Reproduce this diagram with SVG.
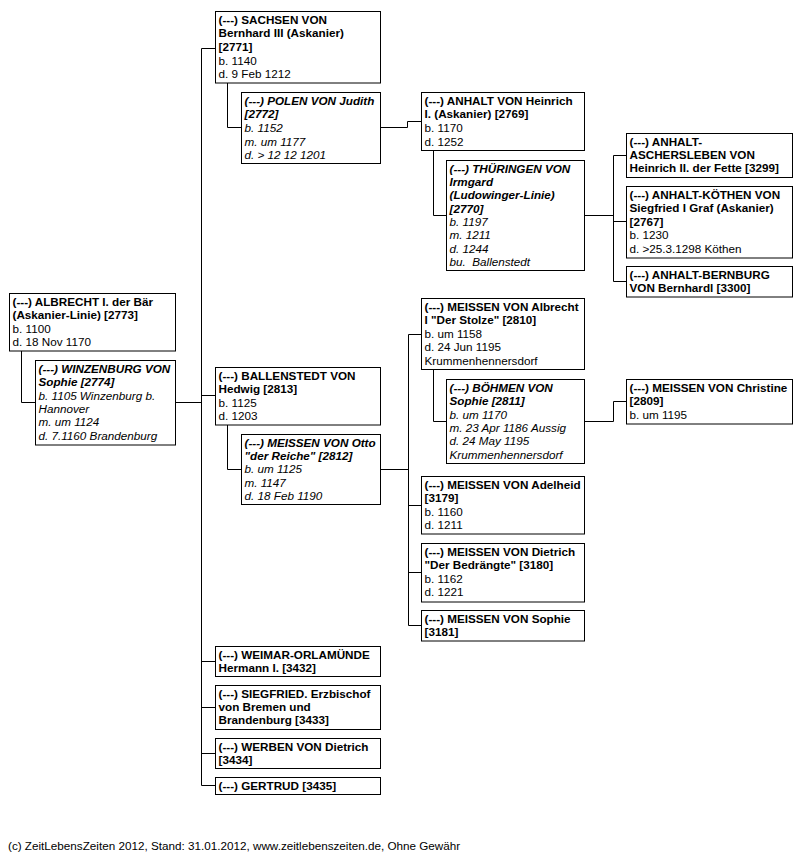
<svg xmlns="http://www.w3.org/2000/svg" width="805" height="855" viewBox="0 0 805 855">
<style>
rect.n{fill:#fff;stroke:#000;stroke-width:1}
text{font-family:"Liberation Sans",Arial,sans-serif;font-size:11.7px;fill:#000}
.b{font-weight:bold}
.i{font-style:italic}
.bi{font-weight:bold;font-style:italic}
#connectors path{fill:none;stroke:#000;stroke-width:1}
</style>
<rect width="805" height="855" fill="#fff"/>
<g id="connectors">
<path d="M201.5 48.5V785.5"/>
<path d="M201.5 48.5H215.5M201.5 395.5H215.5M201.5 661.5H215.5M201.5 707.5H215.5M201.5 753.5H215.5M201.5 785.5H215.5"/>
<path d="M21.5 351V402.5H35.5M175.5 402.5H201.5"/>
<path d="M227.5 83V127.5H241.5M380.5 127.5H407.5V121.5H421.5"/>
<path d="M433.5 150.5V215.5H446.5M584.5 215.5H613.5M613.5 155.5V281.5M613.5 155.5H626.5M613.5 221.5H626.5M613.5 281.5H626.5"/>
<path d="M227.5 425V469.5H241.5M380.5 469.5H408.5M408.5 334.5V625.5M408.5 334.5H421.5M408.5 505.5H421.5M408.5 572.5H421.5M408.5 625.5H421.5"/>
<path d="M433.5 369.5V421.5H446.5M584.5 421.5H613.5V401.5H626.5"/>
</g>
<g id="n2771"><rect class="n" x="215.5" y="11.5" width="165" height="71.5"/>
<text x="218.5" y="23.8"><tspan class="b">(---) SACHSEN VON</tspan><tspan class="b" x="218.5" dy="13.6">Bernhard III (Askanier)</tspan><tspan class="b" x="218.5" dy="13.6">[2771]</tspan><tspan x="218.5" dy="13.6">b. 1140</tspan><tspan x="218.5" dy="13.6">d. 9 Feb 1212</tspan></text></g>
<g id="n2772"><rect class="n" x="241.5" y="92.5" width="139" height="71"/>
<text x="244.5" y="104.8"><tspan class="bi">(---) POLEN VON Judith</tspan><tspan class="bi" x="244.5" dy="13.6">[2772]</tspan><tspan class="i" x="244.5" dy="13.6">b. 1152</tspan><tspan class="i" x="244.5" dy="13.6">m. um 1177</tspan><tspan class="i" x="244.5" dy="13.6">d. &gt; 12 12 1201</tspan></text></g>
<g id="n2769"><rect class="n" x="421.5" y="92.5" width="163" height="58"/>
<text x="424.5" y="104.8"><tspan class="b">(---) ANHALT VON Heinrich</tspan><tspan class="b" x="424.5" dy="13.6">I. (Askanier) [2769]</tspan><tspan x="424.5" dy="13.6">b. 1170</tspan><tspan x="424.5" dy="13.6">d. 1252</tspan></text></g>
<g id="n2770"><rect class="n" x="446.5" y="160.5" width="138" height="110"/>
<text x="449.5" y="172.5"><tspan class="bi">(---) THÜRINGEN VON</tspan><tspan class="bi" x="449.5" dy="13.35">Irmgard</tspan><tspan class="bi" x="449.5" dy="13.35">(Ludowinger-Linie)</tspan><tspan class="bi" x="449.5" dy="13.35">[2770]</tspan><tspan class="i" x="449.5" dy="13.35">b. 1197</tspan><tspan class="i" x="449.5" dy="13.35">m. 1211</tspan><tspan class="i" x="449.5" dy="13.35">d. 1244</tspan><tspan class="i" x="449.5" dy="13.35" xml:space="preserve">bu.  Ballenstedt</tspan></text></g>
<g id="n3299"><rect class="n" x="626.5" y="133.5" width="166" height="44"/>
<text x="629.5" y="145.6"><tspan class="b">(---) ANHALT-</tspan><tspan class="b" x="629.5" dy="13.4">ASCHERSLEBEN VON</tspan><tspan class="b" x="629.5" dy="13.4">Heinrich II. der Fette [3299]</tspan></text></g>
<g id="n2767"><rect class="n" x="626.5" y="186.5" width="166" height="71.5"/>
<text x="629.5" y="198.8"><tspan class="b">(---) ANHALT-KÖTHEN VON</tspan><tspan class="b" x="629.5" dy="13.5">Siegfried I Graf (Askanier)</tspan><tspan class="b" x="629.5" dy="13.5">[2767]</tspan><tspan x="629.5" dy="13.5">b. 1230</tspan><tspan x="629.5" dy="13.5">d. &gt;25.3.1298 Köthen</tspan></text></g>
<g id="n3300"><rect class="n" x="626.5" y="266.5" width="166" height="30.5"/>
<text x="629.5" y="278.6"><tspan class="b">(---) ANHALT-BERNBURG</tspan><tspan class="b" x="629.5" dy="13.4">VON Bernhardl [3300]</tspan></text></g>
<g id="n2773"><rect class="n" x="9.5" y="293.5" width="166" height="57.5"/>
<text x="12.5" y="305.7"><tspan class="b">(---) ALBRECHT I. der Bär</tspan><tspan class="b" x="12.5" dy="13.5">(Askanier-Linie) [2773]</tspan><tspan x="12.5" dy="13.5">b. 1100</tspan><tspan x="12.5" dy="13.5">d. 18 Nov 1170</tspan></text></g>
<g id="n2774"><rect class="n" x="35.5" y="360.5" width="140" height="84.5"/>
<text x="38.5" y="372.7"><tspan class="bi">(---) WINZENBURG VON</tspan><tspan class="bi" x="38.5" dy="13.4">Sophie [2774]</tspan><tspan class="i" x="38.5" dy="13.4">b. 1105 Winzenburg b.</tspan><tspan class="i" x="38.5" dy="13.4">Hannover</tspan><tspan class="i" x="38.5" dy="13.4">m. um 1124</tspan><tspan class="i" x="38.5" dy="13.4">d. 7.1160 Brandenburg</tspan></text></g>
<g id="n2813"><rect class="n" x="215.5" y="367.5" width="165" height="57.5"/>
<text x="218.5" y="379.7"><tspan class="b">(---) BALLENSTEDT VON</tspan><tspan class="b" x="218.5" dy="13.5">Hedwig [2813]</tspan><tspan x="218.5" dy="13.5">b. 1125</tspan><tspan x="218.5" dy="13.5">d. 1203</tspan></text></g>
<g id="n2812"><rect class="n" x="241.5" y="434.5" width="139" height="70"/>
<text x="244.5" y="446.6"><tspan class="bi">(---) MEISSEN VON Otto</tspan><tspan class="bi" x="244.5" dy="13.4">"der Reiche" [2812]</tspan><tspan class="i" x="244.5" dy="13.4">b. um 1125</tspan><tspan class="i" x="244.5" dy="13.4">m. 1147</tspan><tspan class="i" x="244.5" dy="13.4">d. 18 Feb 1190</tspan></text></g>
<g id="n2810"><rect class="n" x="421.5" y="298.5" width="163" height="71"/>
<text x="424.5" y="310.7"><tspan class="b">(---) MEISSEN VON Albrecht</tspan><tspan class="b" x="424.5" dy="13.5">I "Der Stolze" [2810]</tspan><tspan x="424.5" dy="13.5">b. um 1158</tspan><tspan x="424.5" dy="13.5">d. 24 Jun 1195</tspan><tspan x="424.5" dy="13.5">Krummenhennersdorf</tspan></text></g>
<g id="n2811"><rect class="n" x="446.5" y="379.5" width="138" height="84"/>
<text x="449.5" y="391.7"><tspan class="bi">(---) BÖHMEN VON</tspan><tspan class="bi" x="449.5" dy="13.4">Sophie [2811]</tspan><tspan class="i" x="449.5" dy="13.4">b. um 1170</tspan><tspan class="i" x="449.5" dy="13.4">m. 23 Apr 1186 Aussig</tspan><tspan class="i" x="449.5" dy="13.4">d. 24 May 1195</tspan><tspan class="i" x="449.5" dy="13.4">Krummenhennersdorf</tspan></text></g>
<g id="n2809"><rect class="n" x="626.5" y="379.5" width="166" height="44.5"/>
<text x="629.5" y="391.7"><tspan class="b">(---) MEISSEN VON Christine</tspan><tspan class="b" x="629.5" dy="13.4">[2809]</tspan><tspan x="629.5" dy="13.4">b. um 1195</tspan></text></g>
<g id="n3179"><rect class="n" x="421.5" y="476.5" width="163" height="57.5"/>
<text x="424.5" y="488.7"><tspan class="b">(---) MEISSEN VON Adelheid</tspan><tspan class="b" x="424.5" dy="13.5">[3179]</tspan><tspan x="424.5" dy="13.5">b. 1160</tspan><tspan x="424.5" dy="13.5">d. 1211</tspan></text></g>
<g id="n3180"><rect class="n" x="421.5" y="543.5" width="163" height="58.5"/>
<text x="424.5" y="555.7"><tspan class="b">(---) MEISSEN VON Dietrich</tspan><tspan class="b" x="424.5" dy="13.5">"Der Bedrängte" [3180]</tspan><tspan x="424.5" dy="13.5">b. 1162</tspan><tspan x="424.5" dy="13.5">d. 1221</tspan></text></g>
<g id="n3181"><rect class="n" x="421.5" y="610.5" width="163" height="30.5"/>
<text x="424.5" y="622.6"><tspan class="b">(---) MEISSEN VON Sophie</tspan><tspan class="b" x="424.5" dy="13.4">[3181]</tspan></text></g>
<g id="n3432"><rect class="n" x="215.5" y="646.5" width="165" height="30"/>
<text x="218.5" y="658.6"><tspan class="b">(---) WEIMAR-ORLAMÜNDE</tspan><tspan class="b" x="218.5" dy="13.4">Hermann I. [3432]</tspan></text></g>
<g id="n3433"><rect class="n" x="215.5" y="685.5" width="165" height="44"/>
<text x="218.5" y="697.6"><tspan class="b">(---) SIEGFRIED. Erzbischof</tspan><tspan class="b" x="218.5" dy="13.4">von Bremen und</tspan><tspan class="b" x="218.5" dy="13.4">Brandenburg [3433]</tspan></text></g>
<g id="n3434"><rect class="n" x="215.5" y="738.5" width="165" height="30"/>
<text x="218.5" y="750.6"><tspan class="b">(---) WERBEN VON Dietrich</tspan><tspan class="b" x="218.5" dy="13.4">[3434]</tspan></text></g>
<g id="n3435"><rect class="n" x="215.5" y="777.5" width="165" height="17"/>
<text x="218.5" y="789.6" class="b">(---) GERTRUD [3435]</text></g>
<text x="8" y="849.5">(c) ZeitLebensZeiten 2012, Stand: 31.01.2012, www.zeitlebenszeiten.de, Ohne Gewähr</text>
</svg>
